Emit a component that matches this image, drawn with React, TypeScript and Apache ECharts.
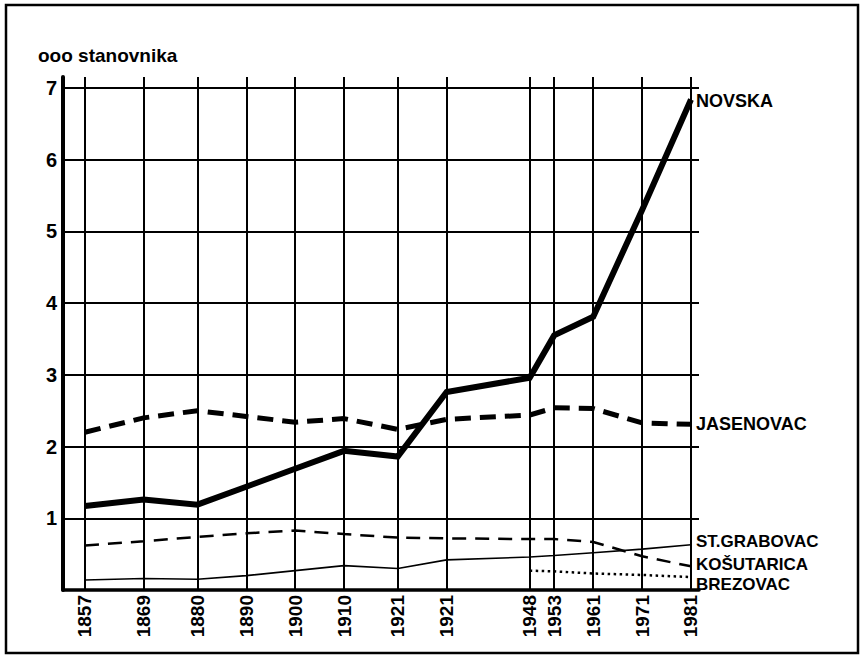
import React, { useEffect, useRef } from "react";
import * as echarts from "echarts";

const years = [1857, 1869, 1880, 1890, 1900, 1910, 1921, 1931, 1948, 1953, 1961, 1971, 1981];
const yearLabels = ["1857", "1869", "1880", "1890", "1900", "1910", "1921", "1921", "1948", "1953", "1961", "1971", "1981"];
const yTicks = [1, 2, 3, 4, 5, 6, 7];

const novska = [1.17, 1.26, 1.19, 1.44, 1.69, 1.94, 1.86, 2.76, 2.96, 3.55, 3.81, 5.3, 6.84];
const jasenovac = [2.2, 2.4, 2.5, 2.42, 2.34, 2.39, 2.24, 2.38, 2.44, 2.54, 2.53, 2.33, 2.31];
const kosutarica = [0.62, 0.68, 0.74, 0.79, 0.83, 0.78, 0.73, 0.72, 0.71, 0.71, 0.67, 0.47, 0.33];
const stGrabovac = [0.14, 0.16, 0.15, 0.2, 0.27, 0.34, 0.3, 0.42, 0.46, 0.48, 0.52, 0.57, 0.63];
const brezovac = [null, null, null, null, null, null, null, null, 0.27, 0.26, 0.23, 0.21, 0.18];

const FONT = "'Liberation Sans', Arial, Helvetica, sans-serif";

function pairs(vals: (number | null)[]) {
  return years.map((y, i) => [y, vals[i]]);
}

export default function App() {
  const ref = useRef<HTMLDivElement>(null);
  useEffect(() => {
    if (!ref.current) return;
    const chart = echarts.init(ref.current, null, { renderer: "svg" });
    const endLabel = (dy: number, size = 18) => ({
      show: true,
      formatter: "{a}",
      color: "#000",
      fontFamily: FONT,
      fontWeight: "bold",
      fontSize: size,
      lineHeight: size,
      distance: 5,
      offset: [0, dy],
    });
    chart.setOption({
      animation: false,
      backgroundColor: "#fff",
      textStyle: { fontFamily: FONT },
      grid: { left: 63, right: 161, top: 77, bottom: 67 },
      graphic: [
        {
          type: "rect",
          shape: { x: 6, y: 5, width: 852, height: 648 },
          style: { fill: "none", stroke: "#000", lineWidth: 2.5 },
          z: 10,
        },
        {
          type: "text",
          left: 38,
          top: 46,
          style: {
            text: "ooo stanovnika",
            fill: "#000",
            font: `bold 19px ${FONT}`,
          },
        },
      ],
      xAxis: {
        type: "value",
        min: 1852.5,
        max: 1982.64,
        axisLine: { show: true, onZero: false, lineStyle: { color: "#000", width: 3.5 } },
        axisTick: { show: false },
        splitLine: { show: false },
        axisLabel: {
          customValues: years,
          rotate: 90,
          margin: 5,
          color: "#000",
          fontFamily: FONT,
          fontWeight: "bold",
          fontSize: 19,
          formatter: (v: number) => {
            const i = years.indexOf(Math.round(v));
            return i >= 0 ? yearLabels[i] : "";
          },
        },
      },
      yAxis: {
        type: "value",
        min: 0,
        max: 7.153,
        axisLine: { show: true, lineStyle: { color: "#000", width: 4 } },
        axisTick: { show: false },
        splitLine: { show: false },
        axisLabel: {
          customValues: yTicks,
          margin: 6,
          color: "#000",
          fontFamily: FONT,
          fontWeight: "bold",
          fontSize: 20,
        },
      },
      series: [
        {
          name: "grid",
          type: "line",
          data: [[1857, null]],
          showSymbol: false,
          silent: true,
          z: 1,
          lineStyle: { opacity: 0 },
          markLine: {
            silent: true,
            symbol: ["none", "none"],
            label: { show: false },
            lineStyle: { color: "#000", width: 2, type: "solid" },
            data: [
              ...years.map((y) => ({ xAxis: y })),
              ...yTicks.map((t) => ({ yAxis: t })),
            ],
          },
        },
        {
          name: "NOVSKA",
          type: "line",
          data: pairs(novska),
          showSymbol: false,
          z: 5,
          lineStyle: { color: "#000", width: 6, type: "solid", join: "miter" },
          endLabel: endLabel(2),
        },
        {
          name: "JASENOVAC",
          type: "line",
          data: pairs(jasenovac),
          showSymbol: false,
          z: 5,
          lineStyle: { color: "#000", width: 5, type: [16, 9] },
          endLabel: endLabel(0),
        },
        {
          name: "ST.GRABOVAC",
          type: "line",
          data: pairs(stGrabovac),
          showSymbol: false,
          z: 5,
          lineStyle: { color: "#000", width: 1.6, type: "solid" },
          endLabel: endLabel(-3, 17),
        },
        {
          name: "KOŠUTARICA",
          type: "line",
          data: pairs(kosutarica),
          showSymbol: false,
          z: 5,
          lineStyle: { color: "#000", width: 2.5, type: [14, 9] },
          endLabel: endLabel(-2, 17),
        },
        {
          name: "BREZOVAC",
          type: "line",
          data: pairs(brezovac),
          showSymbol: false,
          connectNulls: false,
          z: 5,
          lineStyle: { color: "#000", width: 2.5, type: [2.5, 3.5] },
          endLabel: endLabel(7, 17),
        },
      ],
    });
    return () => chart.dispose();
  }, []);
  return (
    <div
      ref={ref}
      style={{ position: "absolute", left: 0, top: 0, width: 860, height: 657, background: "#fff" }}
    />
  );
}
